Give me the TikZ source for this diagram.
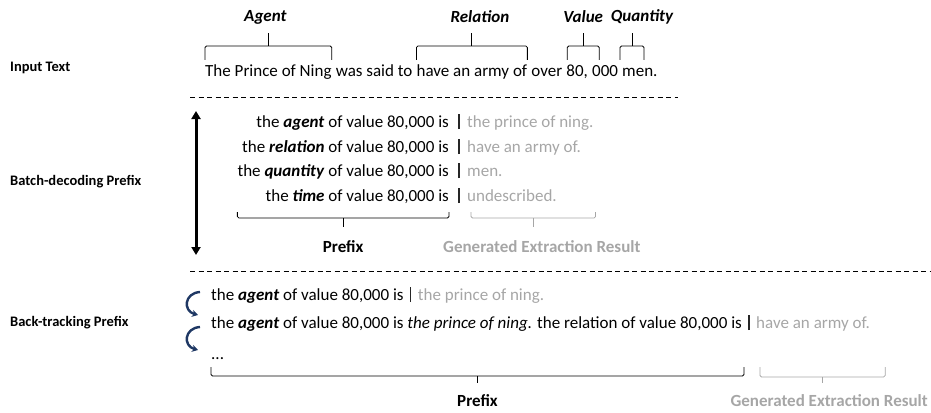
\documentclass[tikz,border=0pt]{standalone}
\usepackage{fontspec}
\setmainfont{Carlito}
\usetikzlibrary{arrows.meta,calc}
\definecolor{gentext}{HTML}{A6A6A6}
\definecolor{navyarrow}{HTML}{1F3864}
\begin{document}
\begin{tikzpicture}[x=1pt,y=-1pt,
  txt/.style={inner sep=0pt, font=\fontsize{17}{20}\selectfont},
  gen/.style={txt, text=gentext},
  lbl/.style={inner sep=0pt, anchor=west, font=\fontsize{14.5}{17}\selectfont\bfseries},
  tag/.style={inner sep=0pt, font=\fontsize{17}{20}\selectfont\bfseries\itshape},
  capt/.style={inner sep=0pt, font=\fontsize{17}{20}\selectfont\bfseries},
  brk/.style={line width=0.8pt, rounded corners=1.5pt},
  gbrk/.style={brk, draw=gentext},
  barline/.style={line width=1.2pt, draw=black!85},
  sep/.style={dash pattern=on 5pt off 3.5pt, line width=0.8pt},
  curv/.style={-{Stealth[length=6pt,width=7pt]}, line width=2.4pt, draw=navyarrow},
  dbl/.style={{Triangle[length=8pt,width=9pt]}-{Triangle[length=8pt,width=9pt]}, line width=3pt}]
\useasboundingbox (0,0) rectangle (931,412);

% ---------- row labels ----------
\node[lbl] (lin) at (10,68) {Input Text};
\node[lbl] (lbd) at (10,182) {Batch-decoding Prefix};
\node[lbl] (lbt) at (10,323) {Back-tracking Prefix};

% ---------- input sentence ----------
\node[txt, anchor=base west] (s1) at (205,77) {The Prince of Ning};
\node[txt, anchor=base west] (s2) at (s1.base east) {\ was said to\ \null};
\node[txt, anchor=base west] (s3) at (s2.base east) {have an army of};
\node[txt, anchor=base west] (s4) at (s3.base east) {\ over\ \null};
\node[txt, anchor=base west] (s5) at (s4.base east) {80,};
\node[txt, anchor=base west] (s6) at (s5.base east) {\ 000\ \null};
\node[txt, anchor=base west] (s7) at (s6.base east) {men.};

\coordinate (vL) at ($(s5.west)+(1,0)$);
\coordinate (vR) at ($(s5.west)+(33,0)$);
\coordinate (vM) at ($(vL)!0.5!(vR)$);
\coordinate (qL) at ($(s7.west)+(-2,0)$);
\coordinate (qR) at ($(s7.west)+(22,0)$);
\coordinate (qM) at ($(qL)!0.5!(qR)$);

% braces above the sentence
\draw[brk] (s1.west |- 0,60) |- (s1.east |- 0,46) -- (s1.east |- 0,60);
\draw[brk] (s1.north |- 0,46) -- (s1.north |- 0,33);
\draw[brk] (s3.west |- 0,60) |- (s3.east |- 0,46) -- (s3.east |- 0,60);
\draw[brk] (s3.north |- 0,46) -- (s3.north |- 0,33);
\draw[brk] (vL |- 0,60) |- (vR |- 0,46) -- (vR |- 0,60);
\draw[brk] (vM |- 0,46) -- (vM |- 0,33);
\draw[brk] (qL |- 0,60) |- (qR |- 0,46) -- (qR |- 0,60);
\draw[brk] (qM |- 0,46) -- (qM |- 0,33);

\node[tag] (tagent) at ($(s1.north |- 0,17)+(-3,0)$) {Agent};
\node[tag] (trel) at ($(s3.north |- 0,17)+(8,0)$) {Relation};
\node[tag] (tval) at (vM |- 0,17) {Value};
\node[tag] (tqty) at ($(qM |- 0,17)+(10,0)$) {Quantity};

% ---------- separators ----------
\coordinate (d1a) at (190,97);
\coordinate (d1b) at (678,97);
\coordinate (d2a) at (190,271);
\coordinate (d2b) at (930,271);
\draw[sep] (d1a) -- (d1b);
\draw[sep] (d2a) -- (d2b);

% ---------- batch decoding ----------
\coordinate (ua) at (196,111);
\coordinate (ub) at (196,255);
\draw[dbl] (ua) -- (ub);

\node[txt, anchor=base east] (r1) at (449,127) {the \textbf{\textit{agent}} of value 80,000 is};
\node[txt, anchor=base east] (r2) at (449,152) {the \textbf{\textit{relation}} of value 80,000 is};
\node[txt, anchor=base east] (r3) at (449,176) {the \textbf{\textit{quantity}} of value 80,000 is};
\node[txt, anchor=base east] (r4) at (449,201) {the \textbf{\textit{time}} of value 80,000 is};
\foreach \r in {r1,r2,r3,r4}{
  \draw[barline] ($(\r.base east)+(10,2)$) -- ++(0,-15);
}
\node[gen, anchor=base west] (g1) at ($(r1.base east)+(18,0)$) {the prince of ning.};
\node[gen, anchor=base west] (g2) at ($(r2.base east)+(18,0)$) {have an army of.};
\node[gen, anchor=base west] (g3) at ($(r3.base east)+(18,0)$) {men.};
\node[gen, anchor=base west] (g4) at ($(r4.base east)+(18,0)$) {undescribed.};

\coordinate (pL) at (r3.west |- 0,212);
\coordinate (pR) at (r1.east |- 0,212);
\coordinate (pM) at ($(pL)!0.5!(pR)$);
\draw[brk] (pL) |- (pR |- 0,218) -- (pR);
\draw[brk] (pM |- 0,218) -- (pM |- 0,227);
\coordinate (gL) at ($(g1.west |- 0,212)+(4,0)$);
\coordinate (gR) at ($(g1.east |- 0,212)+(2,0)$);
\coordinate (gM) at ($(gL)!0.5!(gR)$);
\draw[gbrk] (gL) |- (gR |- 0,218) -- (gR);
\draw[gbrk] (gM |- 0,218) -- (gM |- 0,227);

\node[capt] (pre1) at (pM |- 0,247) {Prefix};
\node[capt, text=gentext, anchor=west] (ger1) at (443,247) {Generated Extraction Result};

% ---------- back-tracking ----------
\coordinate (c1s) at (200,292);
\coordinate (c1e) at (198,315);
\coordinate (c2s) at (200,327);
\coordinate (c2e) at (198,350);
\draw[curv] (c1s) .. controls (184,293) and (183,311) .. (c1e);
\draw[curv] (c2s) .. controls (184,328) and (183,346) .. (c2e);

\node[txt, anchor=base west] (b1) at (211,300) {the \textbf{\textit{agent}} of value 80,000 is};
\draw[barline] ($(b1.base east)+(7,2)$) -- ++(0,-15);
\node[gen, anchor=base west] (bg1) at ($(b1.base east)+(14,0)$) {the prince of ning.};

\node[txt, anchor=base west] (b2) at (211,328) {the \textbf{\textit{agent}} of value 80,000 is \textit{the prince of ning.} the relation of value 80,000 is};
\draw[barline] ($(b2.base east)+(7,2)$) -- ++(0,-15);
\node[gen, anchor=base west] (bg2) at ($(b2.base east)+(14,0)$) {have an army of.};

\node[txt, anchor=base west] (b3) at (211,359) {...};

\coordinate (qbL) at (b2.west |- 0,367);
\coordinate (qbR) at ($(b2.east |- 0,367)+(2,0)$);
\coordinate (qbM) at ($(qbL)!0.5!(qbR)$);
\draw[brk] (qbL) |- (qbR |- 0,376) -- (qbR);
\draw[brk] (qbM |- 0,376) -- (qbM |- 0,383);
\coordinate (gbL) at ($(bg2.west |- 0,367)+(4,0)$);
\coordinate (gbR) at ($(bg2.east |- 0,367)+(15,0)$);
\coordinate (gbM) at ($(gbL)!0.5!(gbR)$);
\draw[gbrk] (gbL) |- (gbR |- 0,377) -- (gbR);
\draw[gbrk] (gbM |- 0,377) -- (gbM |- 0,383);

\node[capt] (pre2) at (qbM |- 0,401) {Prefix};
\node[capt, text=gentext, anchor=east] (ger2) at (928,401) {Generated Extraction Result};
\end{tikzpicture}
\end{document}
